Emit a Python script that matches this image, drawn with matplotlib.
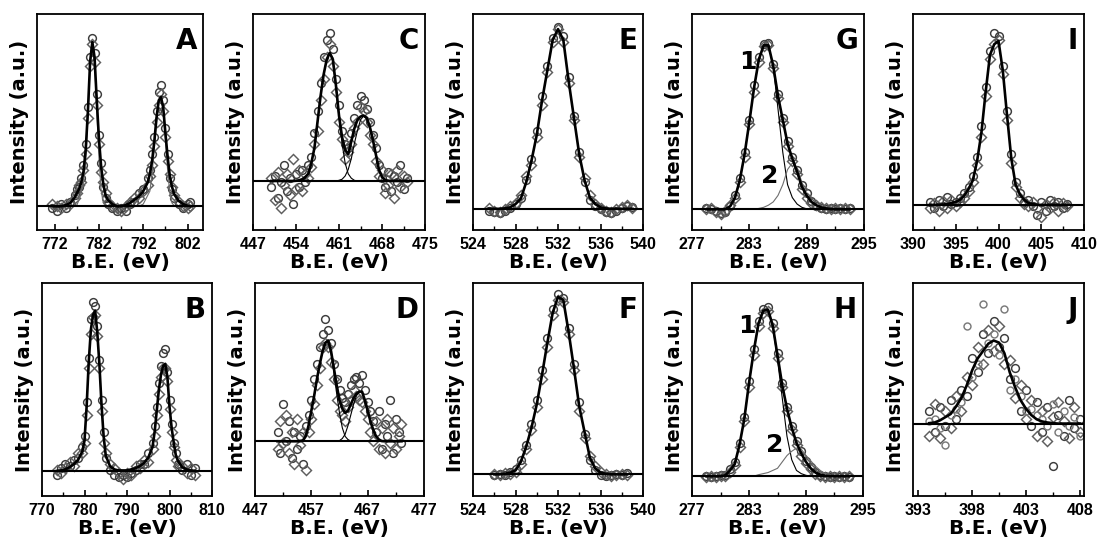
import matplotlib
matplotlib.use("Agg")
import matplotlib.pyplot as plt

plt.rcParams['font.family'] = ['Liberation Sans', 'DejaVu Sans']
plt.rcParams['font.weight'] = 'bold'

# ---- panel A (Co 2p, sample 1) ----
x_a = [771.5, 772.5, 773.5, 774.5, 775.5, 776.5, 777, 777.5, 778, 778.5, 779, 779.5, 780, 780.5,
       781, 781.5, 782, 782.5, 783, 783.5, 784, 785, 786, 787, 788, 789, 790, 791, 792, 793,
       793.5, 794, 794.5, 795, 795.5, 796, 796.5, 797, 797.5, 798, 798.5, 799, 800, 801, 802, 802.5]
fit_a = [0.11, 0.11, 0.11, 0.115, 0.125, 0.15, 0.17, 0.19, 0.22, 0.27, 0.37, 0.55, 0.78, 0.87,
         0.80, 0.60, 0.42, 0.29, 0.21, 0.16, 0.14, 0.12, 0.11, 0.11, 0.115, 0.125, 0.14, 0.155, 0.18, 0.22,
         0.26, 0.32, 0.41, 0.52, 0.60, 0.615, 0.57, 0.45, 0.34, 0.25, 0.20, 0.165, 0.135, 0.12, 0.112, 0.11]
comp_a1 = [0.11, 0.11, 0.11, 0.11, 0.11, 0.11, 0.115, 0.14, 0.18, 0.22, 0.32, 0.52, 0.76, 0.86,
           0.78, 0.56, 0.33, 0.18, 0.125, 0.112, 0.11, 0.11, 0.11, 0.11, 0.11, 0.11, 0.11, 0.11, 0.11, 0.11,
           0.11, 0.11, 0.11, 0.11, 0.11, 0.11, 0.11, 0.11, 0.11, 0.11, 0.11, 0.11, 0.11, 0.11, 0.11, 0.11]
comp_a2 = [0.11, 0.11, 0.11, 0.11, 0.11, 0.11, 0.11, 0.11, 0.11, 0.11, 0.11, 0.11, 0.11, 0.11,
           0.11, 0.11, 0.11, 0.11, 0.11, 0.11, 0.11, 0.11, 0.11, 0.11, 0.11, 0.11, 0.11, 0.11, 0.12, 0.16,
           0.18, 0.26, 0.38, 0.50, 0.59, 0.61, 0.55, 0.42, 0.28, 0.17, 0.125, 0.112, 0.11, 0.11, 0.11, 0.11]
data_a1 = [0.10, 0.09, 0.12, 0.10, 0.13, 0.16, 0.19, 0.20, 0.24, 0.30, 0.40, 0.57, 0.80, 0.89,
           0.82, 0.63, 0.44, 0.31, 0.20, 0.15, 0.12, 0.10, 0.09, 0.10, 0.09, 0.12, 0.13, 0.17, 0.19, 0.24,
           0.28, 0.35, 0.43, 0.55, 0.64, 0.67, 0.60, 0.47, 0.35, 0.24, 0.19, 0.15, 0.12, 0.10, 0.12, 0.13]
data_a2 = [0.12, 0.11, 0.10, 0.12, 0.12, 0.15, 0.17, 0.21, 0.22, 0.28, 0.35, 0.52, 0.76, 0.86,
           0.78, 0.58, 0.40, 0.27, 0.22, 0.17, 0.13, 0.11, 0.10, 0.09, 0.11, 0.13, 0.15, 0.15, 0.18, 0.21,
           0.25, 0.30, 0.39, 0.50, 0.58, 0.63, 0.55, 0.43, 0.32, 0.26, 0.20, 0.16, 0.13, 0.11, 0.10, 0.11]

# ---- panel B (Co 2p, sample 2) ----
x_b = [773.5, 774.5, 775.5, 776.5, 777.5, 778.5, 779.5, 780, 780.5, 781, 781.5, 782, 782.5, 783,
       783.5, 784, 784.5, 785, 786, 787, 788, 789, 790, 791, 792, 793, 794, 795, 796, 796.5,
       797, 797.5, 798, 798.5, 799, 799.5, 800, 800.5, 801, 801.5, 802, 803, 804, 805, 806]
fit_b = [0.118, 0.12, 0.125, 0.135, 0.15, 0.17, 0.21, 0.26, 0.42, 0.63, 0.78, 0.85, 0.87, 0.77,
         0.62, 0.43, 0.28, 0.19, 0.14, 0.125, 0.12, 0.12, 0.12, 0.125, 0.13, 0.14, 0.155, 0.18, 0.23, 0.30,
         0.40, 0.50, 0.57, 0.61, 0.62, 0.56, 0.42, 0.32, 0.25, 0.19, 0.165, 0.135, 0.125, 0.12, 0.118]
data_b1 = [0.10, 0.13, 0.15, 0.14, 0.17, 0.18, 0.23, 0.28, 0.44, 0.65, 0.83, 0.91, 0.89, 0.80,
           0.64, 0.45, 0.30, 0.18, 0.12, 0.10, 0.09, 0.10, 0.09, 0.11, 0.12, 0.15, 0.15, 0.20, 0.25, 0.33,
           0.42, 0.53, 0.61, 0.67, 0.69, 0.58, 0.45, 0.34, 0.25, 0.20, 0.15, 0.12, 0.15, 0.10, 0.13]
data_b2 = [0.12, 0.11, 0.13, 0.16, 0.14, 0.20, 0.20, 0.25, 0.38, 0.60, 0.76, 0.84, 0.85, 0.75,
           0.60, 0.40, 0.25, 0.20, 0.15, 0.13, 0.11, 0.08, 0.11, 0.10, 0.14, 0.13, 0.17, 0.16, 0.22, 0.28,
           0.38, 0.48, 0.56, 0.60, 0.60, 0.54, 0.41, 0.30, 0.23, 0.17, 0.14, 0.14, 0.11, 0.13, 0.10]

# ---- panel C (Ti 2p, sample 1) ----
x_c = [450, 450.5, 451, 451.5, 452, 452.5, 453, 453.5, 454, 454.5, 455, 455.5, 456, 456.5, 457,
       457.5, 458, 458.5, 459, 459.5, 460, 460.5, 461, 461.5, 462, 462.5, 463, 463.5, 464, 464.5,
       465, 465.5, 466, 466.5, 467, 467.5, 468, 468.5, 469, 469.5, 470, 470.5, 471, 471.5, 472]
fit_c = [0.227, 0.227, 0.227, 0.227, 0.227, 0.227, 0.227, 0.227, 0.228, 0.23, 0.235, 0.245, 0.26, 0.31, 0.38,
         0.50, 0.62, 0.72, 0.79, 0.82, 0.79, 0.67, 0.53, 0.43, 0.37, 0.35, 0.41, 0.47, 0.51, 0.525,
         0.53, 0.52, 0.48, 0.42, 0.35, 0.28, 0.245, 0.232, 0.228, 0.227, 0.227, 0.227, 0.227, 0.227, 0.227]
comp_c1 = [0.227, 0.227, 0.227, 0.227, 0.227, 0.227, 0.227, 0.227, 0.227, 0.227, 0.227, 0.24, 0.26, 0.31, 0.38,
           0.50, 0.62, 0.72, 0.79, 0.82, 0.78, 0.66, 0.52, 0.40, 0.31, 0.26, 0.24, 0.23, 0.227, 0.227,
           0.227, 0.227, 0.227, 0.227, 0.227, 0.227, 0.227, 0.227, 0.227, 0.227, 0.227, 0.227, 0.227, 0.227, 0.227]
comp_c2 = [0.227, 0.227, 0.227, 0.227, 0.227, 0.227, 0.227, 0.227, 0.227, 0.227, 0.227, 0.227, 0.227, 0.227, 0.227,
           0.227, 0.227, 0.227, 0.227, 0.227, 0.227, 0.227, 0.23, 0.235, 0.25, 0.28, 0.33, 0.40, 0.46, 0.51,
           0.527, 0.515, 0.48, 0.42, 0.35, 0.28, 0.245, 0.232, 0.228, 0.227, 0.227, 0.227, 0.227, 0.227, 0.227]
data_c1 = [0.20, 0.25, 0.15, 0.22, 0.30, 0.18, 0.24, 0.12, 0.26, 0.20, 0.28, 0.22, 0.30, 0.34, 0.45,
           0.55, 0.68, 0.80, 0.88, 0.91, 0.84, 0.70, 0.58, 0.46, 0.40, 0.38, 0.45, 0.52, 0.58, 0.62,
           0.60, 0.56, 0.50, 0.44, 0.38, 0.30, 0.24, 0.20, 0.27, 0.18, 0.25, 0.22, 0.30, 0.19, 0.24]
data_c2 = [0.24, 0.14, 0.27, 0.10, 0.21, 0.26, 0.16, 0.33, 0.19, 0.28, 0.18, 0.26, 0.24, 0.29, 0.40,
           0.46, 0.60, 0.70, 0.80, 0.86, 0.76, 0.64, 0.50, 0.42, 0.33, 0.36, 0.40, 0.47, 0.50, 0.57,
           0.55, 0.50, 0.44, 0.40, 0.32, 0.25, 0.28, 0.17, 0.21, 0.26, 0.15, 0.28, 0.20, 0.25, 0.22]

# ---- panel D (Ti 2p, sample 2) ----
x_d = [451, 451.5, 452, 452.5, 453, 453.5, 454, 454.5, 455, 455.5, 456, 456.5, 457, 457.5, 458,
       458.5, 459, 459.5, 460, 460.5, 461, 461.5, 462, 462.5, 463, 463.5, 464, 464.5, 465, 465.5,
       466, 466.5, 467, 467.5, 468, 468.5, 469, 469.5, 470, 470.5, 471, 471.5, 472, 472.5, 473]
fit_d = [0.257, 0.257, 0.257, 0.257, 0.257, 0.257, 0.257, 0.257, 0.257, 0.26, 0.28, 0.33, 0.40, 0.47, 0.55,
         0.62, 0.68, 0.72, 0.73, 0.68, 0.60, 0.52, 0.45, 0.41, 0.39, 0.40, 0.43, 0.46, 0.48, 0.49,
         0.49, 0.45, 0.40, 0.35, 0.31, 0.28, 0.265, 0.258, 0.257, 0.257, 0.257, 0.257, 0.257, 0.257, 0.257]
comp_d1 = [0.257, 0.257, 0.257, 0.257, 0.257, 0.257, 0.257, 0.257, 0.257, 0.26, 0.28, 0.33, 0.40, 0.47, 0.55,
           0.62, 0.68, 0.72, 0.73, 0.67, 0.58, 0.48, 0.39, 0.32, 0.28, 0.265, 0.258, 0.257, 0.257, 0.257,
           0.257, 0.257, 0.257, 0.257, 0.257, 0.257, 0.257, 0.257, 0.257, 0.257, 0.257, 0.257, 0.257, 0.257, 0.257]
comp_d2 = [0.257, 0.257, 0.257, 0.257, 0.257, 0.257, 0.257, 0.257, 0.257, 0.257, 0.257, 0.257, 0.257, 0.257, 0.257,
           0.257, 0.257, 0.257, 0.257, 0.257, 0.257, 0.257, 0.26, 0.27, 0.29, 0.33, 0.38, 0.43, 0.47, 0.49,
           0.49, 0.45, 0.40, 0.35, 0.31, 0.28, 0.265, 0.258, 0.257, 0.257, 0.257, 0.257, 0.257, 0.257, 0.257]
data_d1 = [0.30, 0.20, 0.43, 0.26, 0.35, 0.18, 0.30, 0.22, 0.28, 0.15, 0.33, 0.38, 0.45, 0.55, 0.62,
           0.70, 0.76, 0.83, 0.78, 0.72, 0.62, 0.55, 0.50, 0.46, 0.44, 0.48, 0.52, 0.55, 0.56, 0.53,
           0.57, 0.50, 0.44, 0.40, 0.35, 0.30, 0.40, 0.22, 0.34, 0.28, 0.45, 0.20, 0.36, 0.30, 0.25]
data_d2 = [0.22, 0.35, 0.25, 0.38, 0.20, 0.30, 0.15, 0.36, 0.24, 0.30, 0.12, 0.30, 0.36, 0.43, 0.52,
           0.60, 0.70, 0.72, 0.70, 0.63, 0.55, 0.45, 0.40, 0.38, 0.35, 0.42, 0.45, 0.50, 0.47, 0.45,
           0.44, 0.40, 0.36, 0.30, 0.26, 0.35, 0.22, 0.32, 0.20, 0.36, 0.25, 0.32, 0.22, 0.28, 0.34]

# ---- panels E and F (O 1s) ----
x_e = [525.5, 526, 526.5, 527, 527.5, 528, 528.5, 529, 529.5, 530, 530.5, 531, 531.5, 532,
       532.5, 533, 533.5, 534, 534.5, 535, 535.5, 536, 536.5, 537, 537.5, 538, 538.5, 539]
fit_e = [0.098, 0.098, 0.098, 0.10, 0.105, 0.12, 0.145, 0.22, 0.32, 0.44, 0.60, 0.74, 0.88, 0.93,
         0.88, 0.69, 0.52, 0.35, 0.23, 0.15, 0.12, 0.105, 0.10, 0.098, 0.098, 0.098, 0.098, 0.098]
data_e1 = [0.09, 0.085, 0.08, 0.09, 0.10, 0.12, 0.15, 0.23, 0.33, 0.46, 0.62, 0.76, 0.89, 0.94,
           0.90, 0.71, 0.53, 0.36, 0.22, 0.14, 0.11, 0.095, 0.085, 0.08, 0.09, 0.10, 0.11, 0.105]
data_e2 = [0.10, 0.09, 0.085, 0.095, 0.11, 0.125, 0.16, 0.25, 0.30, 0.43, 0.58, 0.73, 0.87, 0.93,
           0.87, 0.68, 0.51, 0.34, 0.24, 0.16, 0.12, 0.10, 0.09, 0.085, 0.095, 0.105, 0.115, 0.10]

x_f = [526, 526.5, 527, 527.5, 528, 528.5, 529, 529.5, 530, 530.5, 531, 531.5, 532,
       532.5, 533, 533.5, 534, 534.5, 535, 535.5, 536, 536.5, 537, 537.5, 538, 538.5]
fit_f = [0.102, 0.102, 0.104, 0.11, 0.12, 0.16, 0.23, 0.32, 0.43, 0.57, 0.72, 0.86, 0.935,
         0.92, 0.77, 0.60, 0.42, 0.30, 0.18, 0.13, 0.11, 0.104, 0.102, 0.102, 0.102, 0.102]
data_f1 = [0.10, 0.105, 0.10, 0.115, 0.125, 0.17, 0.24, 0.34, 0.45, 0.59, 0.74, 0.88, 0.95,
           0.93, 0.79, 0.62, 0.44, 0.29, 0.17, 0.12, 0.10, 0.095, 0.10, 0.105, 0.10, 0.11]
data_f2 = [0.105, 0.10, 0.11, 0.105, 0.115, 0.15, 0.22, 0.31, 0.42, 0.55, 0.70, 0.85, 0.92,
           0.91, 0.76, 0.59, 0.40, 0.27, 0.19, 0.14, 0.115, 0.105, 0.095, 0.10, 0.105, 0.10]

# ---- panels G and H (C 1s) ----
x_cs = [278.5, 279, 279.5, 280, 280.5, 281, 281.5, 282, 282.5, 283, 283.5, 284, 284.5, 285, 285.5,
        286, 286.5, 287, 287.5, 288, 288.5, 289, 289.5, 290, 290.5, 291, 291.5, 292, 292.5, 293, 293.5]
fit_g = [0.096, 0.096, 0.096, 0.096, 0.096, 0.11, 0.15, 0.23, 0.35, 0.50, 0.66, 0.79, 0.855, 0.855, 0.76,
         0.62, 0.51, 0.40, 0.33, 0.27, 0.20, 0.16, 0.13, 0.115, 0.105, 0.10, 0.097, 0.096, 0.096, 0.096, 0.096]
comp_g1 = [0.096, 0.096, 0.096, 0.096, 0.096, 0.11, 0.15, 0.23, 0.35, 0.50, 0.66, 0.79, 0.855, 0.855, 0.76,
           0.56, 0.36, 0.21, 0.15, 0.12, 0.105, 0.098, 0.096, 0.096, 0.096, 0.096, 0.096, 0.096, 0.096, 0.096, 0.096]
comp_g2 = [0.096, 0.096, 0.096, 0.096, 0.096, 0.096, 0.096, 0.096, 0.096, 0.096, 0.096, 0.10, 0.105, 0.115, 0.13,
           0.16, 0.21, 0.28, 0.31, 0.29, 0.22, 0.16, 0.13, 0.115, 0.105, 0.10, 0.097, 0.096, 0.096, 0.096, 0.096]
data_g1 = [0.10, 0.095, 0.09, 0.08, 0.085, 0.11, 0.16, 0.24, 0.36, 0.51, 0.67, 0.80, 0.86, 0.865, 0.77,
           0.63, 0.52, 0.41, 0.34, 0.28, 0.21, 0.17, 0.135, 0.11, 0.10, 0.095, 0.10, 0.095, 0.10, 0.095, 0.10]
data_g2 = [0.095, 0.10, 0.085, 0.075, 0.09, 0.115, 0.15, 0.22, 0.34, 0.49, 0.64, 0.78, 0.85, 0.855, 0.75,
           0.61, 0.50, 0.39, 0.32, 0.26, 0.19, 0.15, 0.125, 0.115, 0.105, 0.10, 0.095, 0.10, 0.095, 0.10, 0.095]

fit_h = [0.093, 0.093, 0.093, 0.093, 0.097, 0.12, 0.15, 0.24, 0.36, 0.53, 0.68, 0.81, 0.87, 0.875, 0.80,
         0.66, 0.52, 0.41, 0.32, 0.25, 0.20, 0.16, 0.13, 0.11, 0.10, 0.095, 0.093, 0.093, 0.093, 0.093, 0.093]
comp_h1 = [0.093, 0.093, 0.093, 0.093, 0.097, 0.12, 0.15, 0.24, 0.36, 0.53, 0.68, 0.81, 0.87, 0.875, 0.80,
           0.64, 0.46, 0.28, 0.17, 0.12, 0.105, 0.097, 0.093, 0.093, 0.093, 0.093, 0.093, 0.093, 0.093, 0.093, 0.093]
comp_h2 = [0.093, 0.093, 0.093, 0.093, 0.093, 0.093, 0.093, 0.093, 0.093, 0.093, 0.093, 0.10, 0.105, 0.11, 0.12,
           0.13, 0.16, 0.19, 0.21, 0.225, 0.22, 0.19, 0.165, 0.14, 0.12, 0.105, 0.097, 0.093, 0.093, 0.093, 0.093]
data_h1 = [0.095, 0.09, 0.095, 0.10, 0.10, 0.125, 0.16, 0.25, 0.37, 0.54, 0.69, 0.82, 0.88, 0.885, 0.81,
           0.67, 0.53, 0.42, 0.33, 0.26, 0.21, 0.165, 0.135, 0.115, 0.10, 0.095, 0.09, 0.095, 0.09, 0.095, 0.09]
data_h2 = [0.09, 0.095, 0.09, 0.095, 0.095, 0.115, 0.145, 0.23, 0.35, 0.51, 0.66, 0.80, 0.86, 0.87, 0.79,
           0.65, 0.51, 0.40, 0.31, 0.24, 0.19, 0.155, 0.125, 0.105, 0.095, 0.09, 0.095, 0.09, 0.095, 0.09, 0.095]

# ---- panels I and J (N 1s) ----
x_i = [392, 392.5, 393, 393.5, 394, 394.5, 395, 395.5, 396, 396.5, 397, 397.5, 398, 398.5, 399, 399.5,
       400, 400.5, 401, 401.5, 402, 402.5, 403, 403.5, 404, 404.5, 405, 405.5, 406, 406.5, 407, 407.5, 408]
fit_i = [0.116, 0.116, 0.117, 0.118, 0.12, 0.125, 0.13, 0.14, 0.16, 0.19, 0.23, 0.32, 0.45, 0.64, 0.81, 0.86,
         0.875, 0.74, 0.53, 0.33, 0.21, 0.165, 0.14, 0.125, 0.12, 0.117, 0.116, 0.116, 0.116, 0.116, 0.116, 0.116, 0.116]
data_i1 = [0.13, 0.10, 0.14, 0.11, 0.155, 0.12, 0.13, 0.15, 0.17, 0.20, 0.25, 0.34, 0.48, 0.66, 0.83, 0.91,
           0.90, 0.76, 0.55, 0.35, 0.22, 0.17, 0.13, 0.14, 0.11, 0.07, 0.13, 0.09, 0.14, 0.11, 0.13, 0.10, 0.12]
data_i2 = [0.10, 0.125, 0.09, 0.135, 0.10, 0.14, 0.11, 0.13, 0.15, 0.18, 0.22, 0.30, 0.43, 0.62, 0.79, 0.86,
           0.88, 0.72, 0.51, 0.31, 0.20, 0.15, 0.12, 0.11, 0.13, 0.10, 0.06, 0.12, 0.10, 0.13, 0.09, 0.125, 0.11]

x_j = [394, 394.5, 395, 395.5, 396, 396.5, 397, 397.5, 398, 398.5, 399, 399.5, 400, 400.5, 401,
       401.5, 402, 402.5, 403, 403.5, 404, 404.5, 405, 405.5, 406, 406.5, 407, 407.5, 408]
fit_j = [0.342, 0.345, 0.355, 0.37, 0.385, 0.42, 0.46, 0.52, 0.59, 0.645, 0.68, 0.715, 0.73, 0.72, 0.67,
         0.58, 0.51, 0.45, 0.41, 0.38, 0.36, 0.35, 0.345, 0.342, 0.34, 0.34, 0.34, 0.34, 0.34]
data_j1 = [0.40, 0.30, 0.42, 0.33, 0.45, 0.36, 0.50, 0.47, 0.65, 0.58, 0.76, 0.67, 0.82, 0.70, 0.74,
           0.55, 0.60, 0.40, 0.50, 0.33, 0.44, 0.30, 0.42, 0.14, 0.38, 0.28, 0.45, 0.32, 0.36]
data_j2 = [0.28, 0.43, 0.27, 0.40, 0.32, 0.47, 0.40, 0.56, 0.52, 0.70, 0.62, 0.78, 0.68, 0.80, 0.62,
           0.64, 0.46, 0.52, 0.36, 0.45, 0.28, 0.40, 0.26, 0.37, 0.44, 0.35, 0.27, 0.42, 0.30]
data_j3 = [0.35, 0.36, 0.32, 0.24, 0.38, 0.41, 0.44, 0.80, 0.56, 0.62, 0.90, 0.72, 0.76, 0.66, 0.88,
           0.50, 0.55, 0.47, 0.40, 0.41, 0.38, 0.36, 0.33, 0.43, 0.30, 0.40, 0.33, 0.37, 0.28]

# baseline level of each panel (fraction of the axis height)
baselines = {'A': 0.11, 'B': 0.118, 'C': 0.227, 'D': 0.257, 'E': 0.098,
             'F': 0.102, 'G': 0.096, 'H': 0.093, 'I': 0.116, 'J': 0.34}

GRAY = '#6e6e6e'
panels = [
    dict(name='A', box=(37, 14, 203, 230), x=x_a, fit=fit_a, comps=[(comp_a1, GRAY), (comp_a2, GRAY)],
         scans=[data_a1, data_a2], xlim=(768, 805.5), major=[772, 782, 792, 802], minor=[777, 787, 797]),
    dict(name='B', box=(42, 283, 212, 496), x=x_b, fit=fit_b, comps=[],
         scans=[data_b1, data_b2], xlim=(770, 810), major=[770, 780, 790, 800, 810], minor=[775, 785, 795, 805]),
    dict(name='C', box=(253, 14, 425, 230), x=x_c, fit=fit_c, comps=[(comp_c1, 'k'), (comp_c2, 'k')],
         scans=[data_c1, data_c2], xlim=(447, 475), major=[447, 454, 461, 468, 475],
         minor=[450.5, 457.5, 464.5, 471.5]),
    dict(name='D', box=(255, 283, 424, 496), x=x_d, fit=fit_d, comps=[(comp_d1, 'k'), (comp_d2, 'k')],
         scans=[data_d1, data_d2], xlim=(447, 477), major=[447, 457, 467, 477], minor=[452, 462, 472]),
    dict(name='E', box=(473, 14, 643, 230), x=x_e, fit=fit_e, comps=[],
         scans=[data_e1, data_e2], xlim=(524, 540), major=[524, 528, 532, 536, 540], minor=[526, 530, 534, 538]),
    dict(name='F', box=(473, 283, 643, 496), x=x_f, fit=fit_f, comps=[],
         scans=[data_f1, data_f2], xlim=(524, 540), major=[524, 528, 532, 536, 540], minor=[526, 530, 534, 538]),
    dict(name='G', box=(692, 14, 864, 230), x=x_cs, fit=fit_g, comps=[(comp_g1, 'k'), (comp_g2, GRAY)],
         scans=[data_g1, data_g2], xlim=(277, 295), major=[277, 283, 289, 295], minor=[280, 286, 292],
         peaks=[('1', 282.8, 0.78), ('2', 285.1, 0.25)]),
    dict(name='H', box=(692, 283, 863, 496), x=x_cs, fit=fit_h, comps=[(comp_h1, 'k'), (comp_h2, GRAY)],
         scans=[data_h1, data_h2], xlim=(277, 295), major=[277, 283, 289, 295], minor=[280, 286, 292],
         peaks=[('1', 282.8, 0.80), ('2', 285.7, 0.24)]),
    dict(name='I', box=(913, 14, 1084, 230), x=x_i, fit=fit_i, comps=[],
         scans=[data_i1, data_i2], xlim=(390, 410), major=[390, 395, 400, 405, 410],
         minor=[392.5, 397.5, 402.5, 407.5]),
    dict(name='J', box=(913, 283, 1084, 496), x=x_j, fit=fit_j, comps=[],
         scans=[data_j1, data_j2, data_j3], xlim=(392.5, 408.4), major=[393, 398, 403, 408],
         minor=[395.5, 400.5, 405.5]),
]

W, H = 1101, 539
fig = plt.figure(figsize=(W / 100, H / 100), dpi=100)

marker_styles = [dict(marker='o', ms=5.6, mec='#3c3c3c'),
                 dict(marker='D', ms=4.6, mec='#5e5e5e'),
                 dict(marker='o', ms=5.0, mec='#7a7a7a')]

for p in panels:
    l, t, r, b = p['box']
    ax = fig.add_axes([l / W, 1 - b / H, (r - l) / W, (b - t) / H])

    for scan, st in zip(p['scans'], marker_styles):
        ax.plot(p['x'], scan, ls='none', mfc='none', mew=1.05, zorder=2, **st)
    for comp, col in p['comps']:
        ax.plot(p['x'], comp, color=col, lw=0.8, zorder=3)
    ax.axhline(baselines[p['name']], color='k', lw=1.5, zorder=3)
    ax.plot(p['x'], p['fit'], color='k', lw=1.9, zorder=4)

    for lab, px, py in p.get('peaks', []):
        ax.text(px, py, lab, fontsize=18, fontweight='bold', family='DejaVu Sans',
                ha='center', va='center', zorder=5)

    ax.text(0.965, 0.94, p['name'], transform=ax.transAxes, ha='right', va='top',
            fontsize=20, fontweight='bold', family='DejaVu Sans')

    ax.set_xlim(*p['xlim'])
    ax.set_ylim(0, 1)
    ax.set_yticks([])
    ax.set_xticks(p['major'])
    ax.set_xticklabels([str(v) for v in p['major']])
    ax.set_xticks(p['minor'], minor=True)
    ax.tick_params(axis='x', which='both', direction='in', top=False, labelsize=11.5, pad=5)
    ax.tick_params(axis='x', which='major', length=4, width=1.2)
    ax.tick_params(axis='x', which='minor', length=3, width=1.0)
    for s in ax.spines.values():
        s.set_linewidth(1.3)

    ax.set_xlabel('B.E. (eV)', fontsize=14.5, fontweight='bold', family='DejaVu Sans', labelpad=1)
    ax.set_ylabel('Intensity (a.u.)', fontsize=14, fontweight='bold', family='DejaVu Sans', labelpad=6)

fig.savefig('out.png', dpi=100)
